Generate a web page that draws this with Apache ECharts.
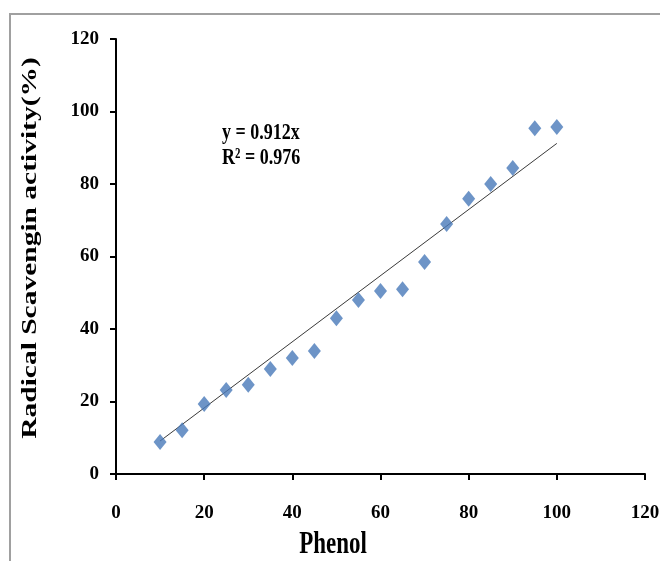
<!DOCTYPE html>
<html>
<head>
<meta charset="utf-8">
<script src="https://cdn.jsdelivr.net/npm/echarts@6/dist/echarts.min.js"></script>
<style>
  html, body { margin: 0; padding: 0; background: #fff; }
  #main { width: 660px; height: 561px; }
</style>
</head>
<body>
<div id="main"></div>
<script>
var phenol = [10, 15, 20, 25, 30, 35, 40, 45, 50, 55, 60, 65, 70, 75, 80, 85, 90, 95, 100];
var activity = [8.8, 12.1, 19.3, 23.2, 24.6, 29.0, 32.0, 33.9, 43.0, 48.0, 50.5, 51.0, 58.5, 69.0, 75.9, 80.0, 84.4, 95.4, 95.7];
// linear trend line ends
var trendX = [10, 100];
var trendY = [9.1, 91.2];
var eqLines = ['y = 0.912x', 'R² = 0.976'];
var xTitle = 'Phenol';
var yTitle = 'Radical Scavengin activity(%)';

var myChart = echarts.init(document.getElementById('main'));

var points = [];
for (var i = 0; i < phenol.length; i++) {
    points.push([phenol[i], activity[i]]);
}
var trend = [];
for (var j = 0; j < trendX.length; j++) {
    trend.push([trendX[j], trendY[j]]);
}

var fontFam = '"Liberation Serif", "Times New Roman", serif';

var option = {
    backgroundColor: '#fff',
    animation: false,
    graphic: [
        {
            type: 'rect',
            shape: { x: 10, y: 14, width: 700, height: 600 },
            style: { fill: 'none', stroke: '#a0a0a0', lineWidth: 2 },
            z: -1
        },
        {
            // the picture is stretched vertically, so stretch the texts too
            type: 'text',
            x: 222,
            y: 121,
            scaleY: 1.3,
            style: {
                text: eqLines.join('\n'),
                font: 'bold 18px ' + fontFam,
                fill: '#000',
                lineHeight: 19
            }
        },
        {
            type: 'text',
            x: 333,
            y: 545,
            scaleY: 1.33,
            style: {
                text: xTitle,
                font: 'bold 23px ' + fontFam,
                fill: '#000',
                align: 'center',
                verticalAlign: 'middle'
            }
        },
        {
            type: 'text',
            x: 30,
            y: 248,
            rotation: Math.PI / 2,
            scaleX: 1.34,
            style: {
                text: yTitle,
                font: 'bold 22px ' + fontFam,
                fill: '#000',
                align: 'center',
                verticalAlign: 'middle'
            }
        }
    ],
    grid: { left: 116, top: 39, right: 15, bottom: 87, outerBoundsMode: 'none' },
    xAxis: {
        type: 'value',
        min: 0,
        max: 120,
        interval: 20,
        axisLine: { lineStyle: { color: '#000', width: 2 } },
        axisTick: { length: 6, lineStyle: { color: '#000', width: 2 } },
        axisLabel: { fontFamily: fontFam, fontWeight: 'bold', fontSize: 19, color: '#000', margin: 30 },
        splitLine: { show: false }
    },
    yAxis: {
        type: 'value',
        min: 0,
        max: 120,
        interval: 20,
        axisLine: { show: true, lineStyle: { color: '#000', width: 2 } },
        axisTick: { show: true, length: 6, lineStyle: { color: '#000', width: 2 } },
        axisLabel: { fontFamily: fontFam, fontWeight: 'bold', fontSize: 19, color: '#000', margin: 17 },
        splitLine: { show: false }
    },
    series: [
        {
            name: 'trend',
            type: 'line',
            data: trend,
            symbol: 'none',
            lineStyle: { color: '#3a3a3a', width: 1 },
            z: 1
        },
        {
            name: 'activity',
            type: 'scatter',
            data: points,
            symbol: 'diamond',
            symbolSize: [13, 16],
            itemStyle: { color: '#4879b9' },
            z: 2
        }
    ]
};

myChart.setOption(option);
</script>
</body>
</html>
